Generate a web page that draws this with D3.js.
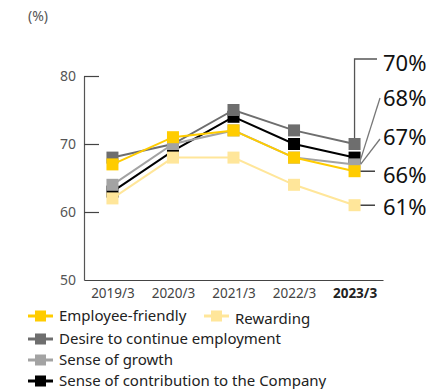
<!DOCTYPE html>
<html>
<head>
<meta charset="utf-8">
<script src="https://cdn.jsdelivr.net/npm/d3@7"></script>
<style>
  html, body { margin: 0; padding: 0; background: #fff; }
  svg { display: block; font-family: "Noto Sans", "Open Sans", sans-serif; }
</style>
</head>
<body>
<svg id="chart" width="437" height="389"></svg>
<script>
// Survey results by fiscal year (%)
const years = ["2019/3", "2020/3", "2021/3", "2022/3", "2023/3"];
const employeeFriendly = [67, 71, 72, 68, 66];
const rewarding = [62, 68, 68, 64, 61];
const desireToContinue = [68, 70, 75, 72, 70];
const senseOfGrowth = [64, 70, 72, 68, 67];
const senseOfContribution = [63, 69, 74, 70, 68];
const yTicks = [50, 60, 70, 80];

const series = [
  { name: "Sense of contribution to the Company", values: senseOfContribution, color: "#000000" },
  { name: "Desire to continue employment", values: desireToContinue, color: "#6e6e6e" },
  { name: "Sense of growth", values: senseOfGrowth, color: "#a3a3a3" },
  { name: "Rewarding", values: rewarding, color: "#ffe69a" },
  { name: "Employee-friendly", values: employeeFriendly, color: "#ffcc00" }
];
const byName = Object.fromEntries(series.map(s => [s.name, s]));

const svg = d3.select("#chart");

const x = d3.scalePoint().domain(years).range([84, 383]).padding(0.47);
const y = d3.scaleLinear().domain([50, 80]).range([280, 76]);

// unit label
svg.append("text").attr("x", 28).attr("y", 21)
  .attr("font-size", 14).attr("fill", "#555").text("(%)");

// y axis with inward ticks
const yAxis = svg.append("g").attr("transform", "translate(84,0)")
  .call(d3.axisLeft(y).tickValues(yTicks).tickSizeInner(-15).tickSizeOuter(0).tickPadding(8));
yAxis.select(".domain").attr("stroke", "#555").attr("stroke-width", 1.2);
yAxis.selectAll(".tick line").attr("stroke", "#444").attr("stroke-width", 1.2);
yAxis.selectAll(".tick").filter(d => d === 50).select("line").remove();
yAxis.selectAll(".tick text").attr("font-size", 14).attr("fill", "#555")
  .attr("font-family", "'Noto Sans', sans-serif");

// x axis
const xAxis = svg.append("g").attr("transform", "translate(0,280)")
  .call(d3.axisBottom(x).tickSize(0).tickPadding(8));
xAxis.select(".domain").attr("stroke", "#444").attr("stroke-width", 1.2);
xAxis.selectAll(".tick text").attr("font-size", 13.5)
  .attr("font-family", "'Noto Sans', sans-serif")
  .attr("font-weight", d => d === "2023/3" ? "bold" : "normal")
  .attr("fill", d => d === "2023/3" ? "#222" : "#444");

// lines and markers
const line = d3.line().x((d, i) => x(years[i])).y(d => y(d));
const M = 12;
series.forEach(s => {
  const g = svg.append("g");
  g.append("path").datum(s.values).attr("d", line)
    .attr("fill", "none").attr("stroke", s.color).attr("stroke-width", 2);
  g.selectAll("rect").data(s.values).join("rect")
    .attr("x", (d, i) => x(years[i]) - M / 2).attr("y", d => y(d) - M / 2)
    .attr("width", M).attr("height", M).attr("fill", s.color);
});

// callouts for the latest year
const last = years.length - 1;
const lx = x(years[last]);
const callouts = [
  { s: "Desire to continue employment", ty: 63, pts: v => [[lx, y(v) - M / 2], [lx, 59], [377, 59]], stroke: "#555" },
  { s: "Sense of contribution to the Company", ty: 98, pts: v => [[lx + 6, y(v) + 2], [380, 98]], stroke: "#777" },
  { s: "Sense of growth", ty: 137, pts: v => [[lx + 6, y(v)], [380, 139]], stroke: "#777" },
  { s: "Employee-friendly", ty: 175, pts: v => [[lx + 6, y(v)], [375, y(v)]], stroke: "#222" },
  { s: "Rewarding", ty: 207, pts: v => [[lx + 6, y(v)], [375, y(v)]], stroke: "#222" }
];
callouts.forEach(c => {
  const v = byName[c.s].values[last];
  svg.append("path").attr("d", d3.line()(c.pts(v)))
    .attr("fill", "none").attr("stroke", c.stroke).attr("stroke-width", 1.3);
  svg.append("text").attr("x", 383).attr("y", c.ty).attr("dy", "0.36em")
    .attr("font-size", 22).attr("fill", "#111").text(v + "%");
});

// legend
const legendItems = [
  { name: "Employee-friendly", lx: 28, ly: 316 },
  { name: "Rewarding", lx: 204, ly: 316, tdy: 3 },
  { name: "Desire to continue employment", lx: 28, ly: 339 },
  { name: "Sense of growth", lx: 28, ly: 360 },
  { name: "Sense of contribution to the Company", lx: 28, ly: 381 }
];
legendItems.forEach(it => {
  const s = byName[it.name];
  const g = svg.append("g").attr("transform", `translate(${it.lx},${it.ly})`);
  g.append("line").attr("x1", 0).attr("x2", 25).attr("y1", 0).attr("y2", 0)
    .attr("stroke", s.color).attr("stroke-width", 3);
  g.append("rect").attr("x", 7).attr("y", -5.5).attr("width", 11).attr("height", 11).attr("fill", s.color);
  g.append("text").attr("x", 31).attr("y", it.tdy || 0).attr("dy", "0.35em")
    .attr("font-size", 15).attr("fill", "#222").text(it.name);
});
</script>
</body>
</html>
